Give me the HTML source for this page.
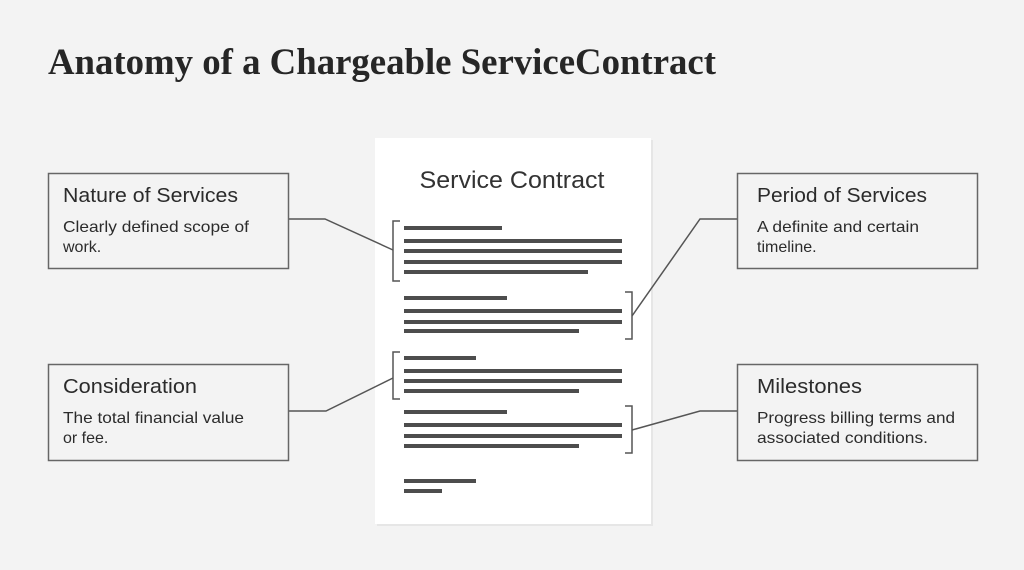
<!DOCTYPE html>
<html><head><meta charset="utf-8"><style>
html,body{margin:0;padding:0;background:#f3f3f3;}
svg{display:block;}
</style></head><body>
<svg width="1024" height="570" viewBox="0 0 1024 570" xmlns="http://www.w3.org/2000/svg">
<rect width="1024" height="570" fill="#f3f3f3"/>
<text x="48" y="74" font-family="Liberation Serif, serif" font-weight="bold" font-size="37" fill="#262626" textLength="668" lengthAdjust="spacingAndGlyphs">Anatomy of a Chargeable ServiceContract</text>
<!-- paper -->
<rect x="377" y="140" width="276" height="386" fill="#e6e6e6"/>
<rect x="375" y="138" width="276" height="386" fill="#ffffff"/>
<text x="512" y="188" text-anchor="middle" font-family="Liberation Sans, sans-serif" font-size="24" fill="#333" textLength="185" lengthAdjust="spacingAndGlyphs">Service Contract</text>
<g fill="#4d4d4d">
<rect x="404" y="226" width="98" height="4"/>
<rect x="404" y="239" width="218" height="4"/>
<rect x="404" y="249" width="218" height="4"/>
<rect x="404" y="260" width="218" height="4"/>
<rect x="404" y="270" width="184" height="4"/>
<rect x="404" y="296" width="103" height="4"/>
<rect x="404" y="309" width="218" height="4"/>
<rect x="404" y="320" width="218" height="4"/>
<rect x="404" y="329" width="175" height="4"/>
<rect x="404" y="356" width="72" height="4"/>
<rect x="404" y="369" width="218" height="4"/>
<rect x="404" y="379" width="218" height="4"/>
<rect x="404" y="389" width="175" height="4"/>
<rect x="404" y="410" width="103" height="4"/>
<rect x="404" y="423" width="218" height="4"/>
<rect x="404" y="434" width="218" height="4"/>
<rect x="404" y="444" width="175" height="4"/>
<rect x="404" y="479" width="72" height="4"/>
<rect x="404" y="489" width="38" height="4"/>
</g>
<g fill="none" stroke="#555" stroke-width="1.5">
<path d="M400 221 H393 V281 H400"/>
<path d="M625 292 H632 V339 H625"/>
<path d="M400 352 H393 V399 H400"/>
<path d="M625 406 H632 V453 H625"/>
<path d="M288 219 H325 L393 250"/>
<path d="M288 411 H326 L393 378"/>
<path d="M737 219 H700 L632 316"/>
<path d="M737 411 H700 L632 430"/>
</g>
<g fill="#f3f3f3" stroke="#666" stroke-width="1.5">
<rect x="48.5" y="173.5" width="240" height="95"/>
<rect x="737.5" y="173.5" width="240" height="95"/>
<rect x="48.5" y="364.5" width="240" height="96"/>
<rect x="737.5" y="364.5" width="240" height="96"/>
</g>
<g font-family="Liberation Sans, sans-serif" fill="#2b2b2b">
<text x="63" y="202" font-size="20" textLength="175" lengthAdjust="spacingAndGlyphs">Nature of Services</text>
<text x="63" y="232" font-size="16" textLength="186" lengthAdjust="spacingAndGlyphs">Clearly defined scope of</text>
<text x="63" y="252" font-size="16">work.</text>
<text x="757" y="202" font-size="20" textLength="170" lengthAdjust="spacingAndGlyphs">Period of Services</text>
<text x="757" y="232" font-size="16" textLength="162" lengthAdjust="spacingAndGlyphs">A definite and certain</text>
<text x="757" y="252" font-size="16">timeline.</text>
<text x="63" y="393" font-size="20" textLength="134" lengthAdjust="spacingAndGlyphs">Consideration</text>
<text x="63" y="423" font-size="16" textLength="181" lengthAdjust="spacingAndGlyphs">The total financial value</text>
<text x="63" y="443" font-size="16">or fee.</text>
<text x="757" y="393" font-size="20" textLength="105" lengthAdjust="spacingAndGlyphs">Milestones</text>
<text x="757" y="423" font-size="16" textLength="198" lengthAdjust="spacingAndGlyphs">Progress billing terms and</text>
<text x="757" y="443" font-size="16" textLength="171" lengthAdjust="spacingAndGlyphs">associated conditions.</text>
</g>
</svg>
</body></html>
